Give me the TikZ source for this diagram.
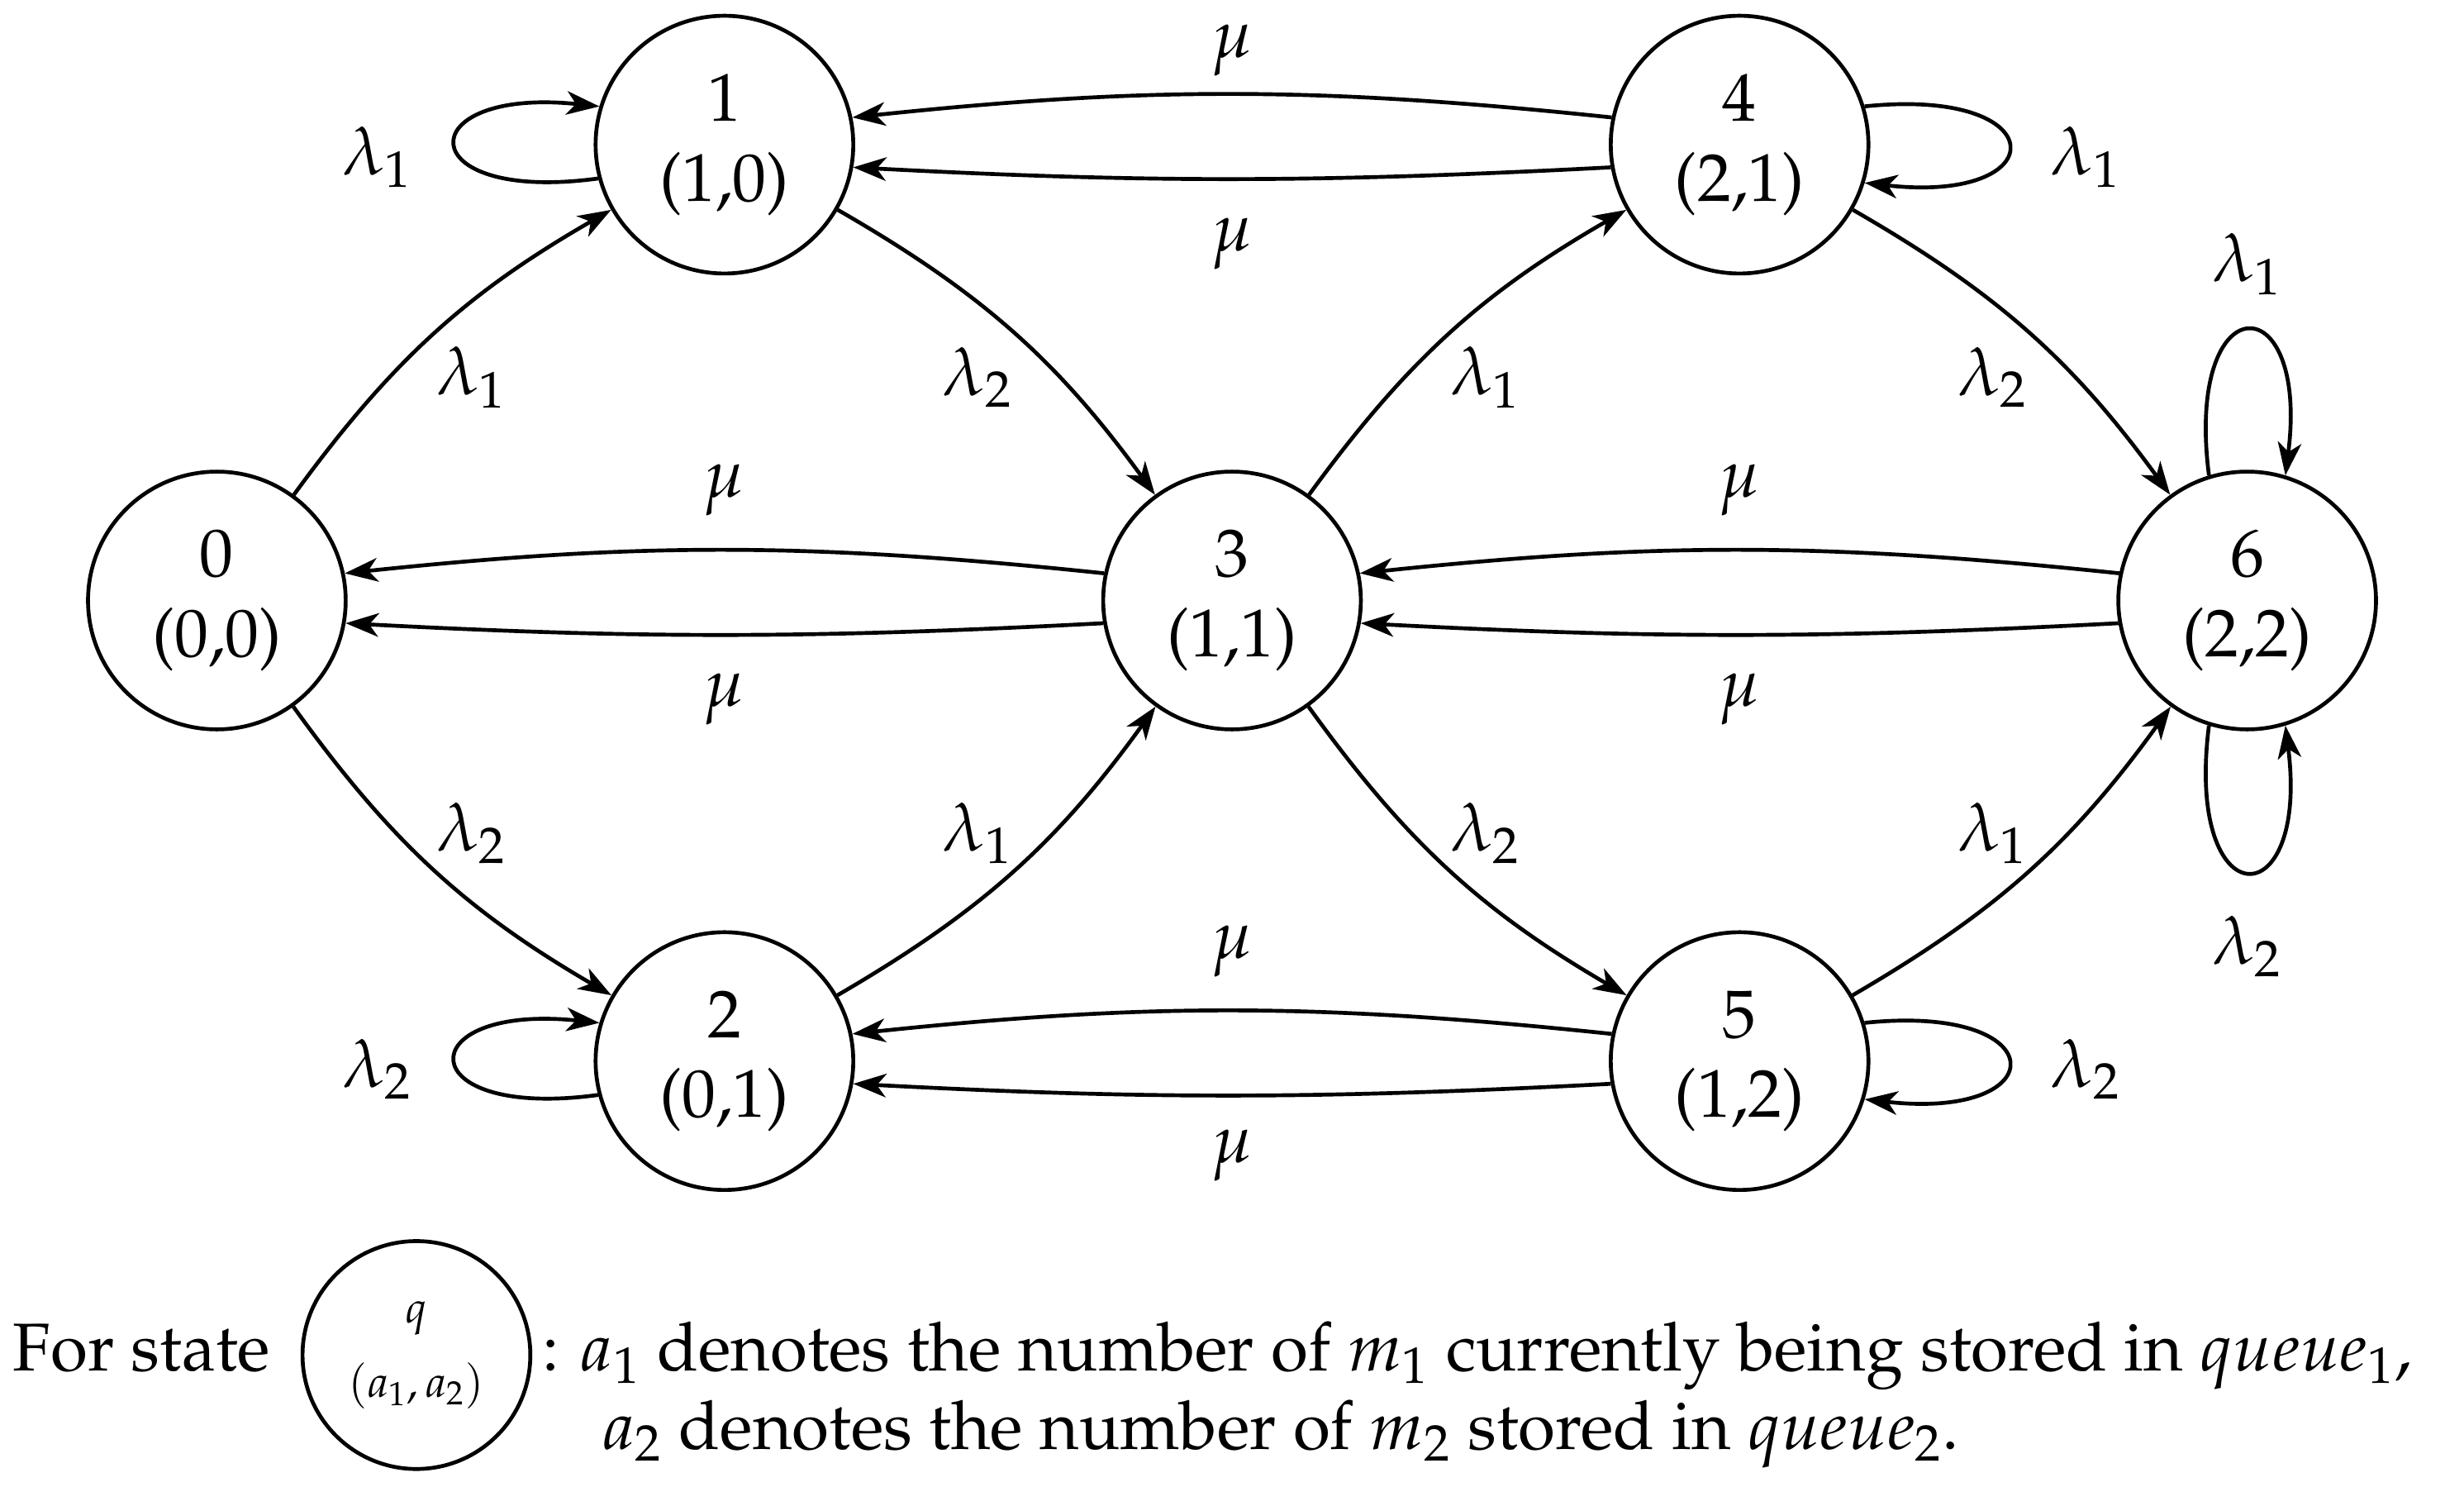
\documentclass[tikz,border=0pt]{standalone}
\usepackage[T1]{fontenc}
\usepackage{mathpazo}
\usetikzlibrary{arrows.meta}
\begin{document}
\begin{tikzpicture}[x=0.02cm,y=-0.02cm,
  every node/.style={font=\fontsize{24.5}{29}\selectfont},
  st/.style={circle,draw,line width=1.4pt,minimum size=3.28cm,align=center,inner sep=0pt},
  e/.style={->,line width=1.4pt,>={Stealth[length=0.42cm,width=0.3cm,inset=0.12cm]}},
  lb/.style={inner sep=1pt}]
\useasboundingbox (0,0) rectangle (1568,958);
\node[st] (n0) at (138,382) {0\\(0,0)};
\node[st] (n1) at (461,92) {1\\(1,0)};
\node[st] (n2) at (461,675) {2\\(0,1)};
\node[st] (n3) at (784,382) {3\\(1,1)};
\node[st] (n4) at (1107,92) {4\\(2,1)};
\node[st] (n5) at (1107,675) {5\\(1,2)};
\node[st] (n6) at (1430,382) {6\\(2,2)};
% diagonals
\draw[e] (n0) to[bend left=12] (n1);
\draw[e] (n1) to[bend left=12] (n3);
\draw[e] (n3) to[bend left=12] (n4);
\draw[e] (n4) to[bend left=12] (n6);
\draw[e] (n0) to[bend right=12] (n2);
\draw[e] (n2) to[bend right=12] (n3);
\draw[e] (n3) to[bend right=12] (n5);
\draw[e] (n5) to[bend right=12] (n6);
\node[lb] (l01) at (300,240) {$\lambda_1$};
\node[lb] (l13) at (622,240) {$\lambda_2$};
\node[lb] (l34) at (945,240) {$\lambda_1$};
\node[lb] (l46) at (1268,240) {$\lambda_2$};
\node[lb] (l02) at (300,530) {$\lambda_2$};
\node[lb] (l23) at (622,530) {$\lambda_1$};
\node[lb] (l35) at (945,530) {$\lambda_2$};
\node[lb] (l56) at (1268,530) {$\lambda_1$};
% mu pairs
\foreach \a/\b in {n4/n1,n3/n0,n6/n3,n5/n2}{
  \draw[e] (\a.168) to[bend right=6] (\b.12);
  \draw[e] (\a.190) to[bend left=3] (\b.-10);
}
\node[lb] (m1) at (784,32) {$\mu$};
\node[lb] (m2) at (784,155) {$\mu$};
\node[lb] (m3) at (461,312) {$\mu$};
\node[lb] (m4) at (461,445) {$\mu$};
\node[lb] (m5) at (1107,312) {$\mu$};
\node[lb] (m6) at (1107,445) {$\mu$};
\node[lb] (m7) at (784,605) {$\mu$};
\node[lb] (m8) at (784,735) {$\mu$};
% loops
\draw[e] (n1.195) .. controls (260,130) and (260,55) .. (n1.163);
\draw[e] (n4.17) .. controls (1308,55) and (1308,130) .. (n4.-17);
\draw[e] (n2.195) .. controls (260,713) and (260,638) .. (n2.163);
\draw[e] (n5.17) .. controls (1308,638) and (1308,713) .. (n5.-17);
\draw[e] (n6.107) .. controls (1390,180) and (1470,180) .. (n6.73);
\draw[e] (n6.-107) .. controls (1390,585) and (1470,585) .. (n6.-73);
\node[lb] (o1) at (240,100) {$\lambda_1$};
\node[lb] (o4) at (1327,100) {$\lambda_1$};
\node[lb] (o2) at (240,680) {$\lambda_2$};
\node[lb] (o5) at (1327,680) {$\lambda_2$};
\node[lb] (o6a) at (1430,168) {$\lambda_1$};
\node[lb] (o6b) at (1430,602) {$\lambda_2$};
% legend
\node[anchor=base west,inner sep=0pt] (fs) at (8,872) {For state};
\node[st,minimum size=2.9cm] (q) at (265,862) {\fontsize{16}{19}\selectfont$q$\\[-2pt]\fontsize{16}{19}\selectfont$(a_1,a_2)$};
\node[anchor=base west,inner sep=0pt] (t1) at (345,872) {: $a_1$ denotes the number of $m_1$ currently being stored in $queue_1$,};
\node[anchor=base west,inner sep=0pt] (t2) at (383,922) {$a_2$ denotes the number of $m_2$ stored in $queue_2$.};
\end{tikzpicture}
\end{document}
